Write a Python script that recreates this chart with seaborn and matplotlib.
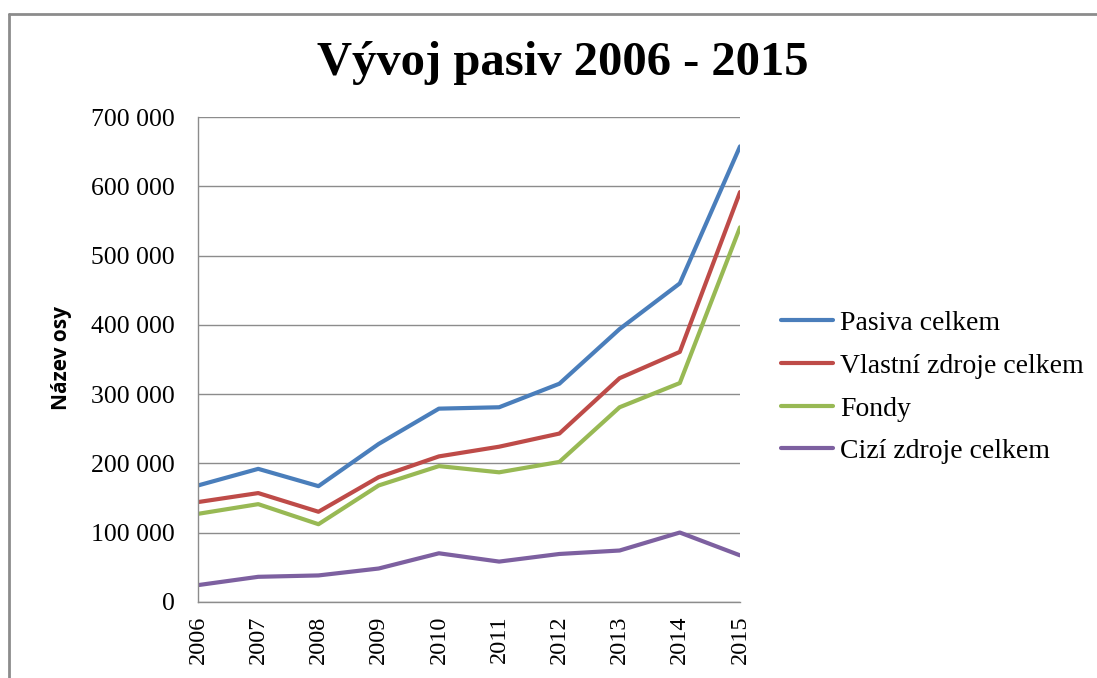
import matplotlib
matplotlib.use('Agg')
import matplotlib.pyplot as plt
from matplotlib.ticker import FuncFormatter
from matplotlib.lines import Line2D
import pandas as pd
import seaborn as sns

years = [2006, 2007, 2008, 2009, 2010, 2011, 2012, 2013, 2014, 2015]
pasiva_celkem = [168000, 192000, 167000, 228000, 279000, 281000, 315000, 394000, 460000, 658000]
vlastni_zdroje = [144000, 157000, 130000, 180000, 210000, 224000, 243000, 323000, 361000, 592000]
fondy = [127000, 141000, 112000, 168000, 196000, 187000, 202000, 281000, 316000, 541000]
cizi_zdroje = [24000, 36000, 38000, 48000, 70000, 58000, 69000, 74000, 100000, 67000]

series = ['Pasiva celkem', 'Vlastní zdroje celkem', 'Fondy', 'Cizí zdroje celkem']
colors = ['#4A7EBB', '#BE4B48', '#98B954', '#7D60A0']

df = pd.DataFrame({
    'rok': years * 4,
    'hodnota': pasiva_celkem + vlastni_zdroje + fondy + cizi_zdroje,
    'rada': [s for s in series for _ in years],
})

sns.set_style('white')
plt.rcParams['font.family'] = ['Liberation Serif', 'DejaVu Serif']
plt.rcParams['text.color'] = 'black'
plt.rcParams['xtick.color'] = 'black'
plt.rcParams['ytick.color'] = 'black'
plt.rcParams['axes.labelcolor'] = 'black'

fig = plt.figure(figsize=(10.97, 6.78), dpi=100)
ax = fig.add_axes([0.1805, 0.1125, 0.4941, 0.7145])

sns.lineplot(data=df, x='rok', y='hodnota', hue='rada', hue_order=series,
             palette=colors, linewidth=3, legend=False, ax=ax)

ax.set_xlim(2006, 2015)
ax.set_ylim(0, 700000)
ax.set_xticks(years)
ax.set_xticklabels([str(y) for y in years], rotation=90, fontsize=17.5)
ax.set_yticks(range(0, 700001, 100000))
ax.yaxis.set_major_formatter(FuncFormatter(lambda v, p: f'{int(v):,}'.replace(',', ' ')))
ax.tick_params(axis='y', labelsize=18.5, length=0, pad=17)
ax.tick_params(axis='x', length=0, pad=10)
ax.grid(axis='y', color='#8c8c8c', linewidth=1)
ax.set_axisbelow(True)
for s in ['top', 'right']:
    ax.spines[s].set_visible(False)
for s in ['left', 'bottom']:
    ax.spines[s].set_color('#8c8c8c')
    ax.spines[s].set_linewidth(1)

ax.set_xlabel('')
ax.set_ylabel('Název osy', fontsize=15, fontweight='bold', family=['Open Sans', 'DejaVu Sans'])
ax.yaxis.set_label_coords(-0.2325, 0.503)

fig.suptitle('Vývoj pasiv 2006 - 2015', x=0.513, y=0.939, fontsize=35, fontweight='bold')

handles = [Line2D([0], [0], color=c, linewidth=3) for c in colors]
fig.legend(handles, series, loc='center left', bbox_to_anchor=(0.699, 0.4285),
           frameon=False, fontsize=20, handlelength=1.9, handletextpad=0.25,
           labelspacing=0.62, borderpad=0)

# okraj grafu
fig.add_artist(Line2D([0.0082, 0.0082], [0, 0.979], color='#8c8c8c', linewidth=2,
                      transform=fig.transFigure))
fig.add_artist(Line2D([0.0082, 1], [0.979, 0.979], color='#8c8c8c', linewidth=2,
                      transform=fig.transFigure))

fig.savefig('out.png', dpi=100)
